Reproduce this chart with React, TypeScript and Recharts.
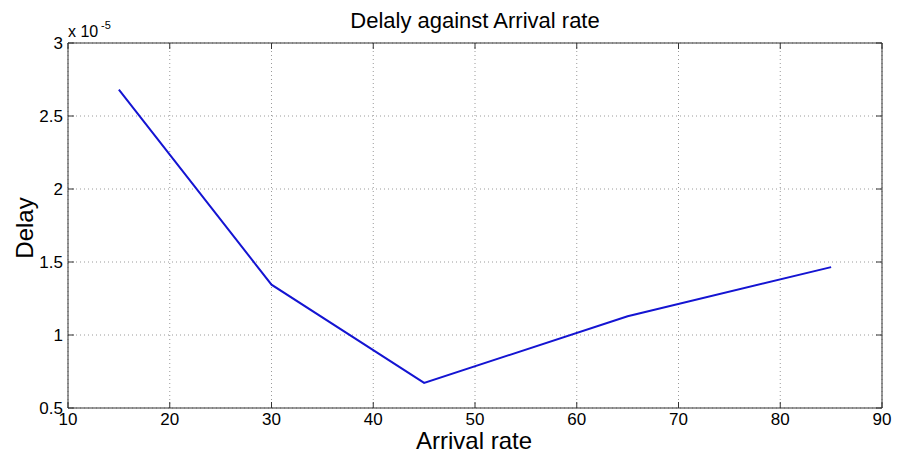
import { LineChart, Line, XAxis, YAxis, CartesianGrid } from 'recharts';

// Arrival rate (x) and delay (in units of 1e-5)
const arrivalRate = [15, 30, 45, 65, 85];
const delay = [2.68, 1.345, 0.672, 1.128, 1.465];

const xTicks = [10, 20, 30, 40, 50, 60, 70, 80, 90];
const yTicks = [0.5, 1, 1.5, 2, 2.5, 3];

const data = arrivalRate.map((x, i) => ({ x, delay: delay[i] }));

const FONT = 'Liberation Sans, Arial, sans-serif';
const AXIS = '#333';
const GAP = 5; // tick label distance from the axis line
const TICK = 6; // inward tick length

// MATLAB-style ticks: short marks pointing into the plot, labels outside
function BottomTick({ x, y, payload }: any) {
  const axisY = y - GAP;
  return (
    <g>
      <line x1={x} y1={axisY} x2={x} y2={axisY - TICK} stroke={AXIS} />
      <text x={x} y={y} dy="0.72em" textAnchor="middle" fontSize={17} fontFamily={FONT} fill="#000">
        {payload.value}
      </text>
    </g>
  );
}

function TopTick({ x, y }: any) {
  return <line x1={x} y1={y} x2={x} y2={y + TICK} stroke={AXIS} />;
}

function LeftTick({ x, y, payload }: any) {
  const axisX = x + GAP;
  return (
    <g>
      <line x1={axisX} y1={y} x2={axisX + TICK} y2={y} stroke={AXIS} />
      <text x={x} y={y} dy="0.36em" textAnchor="end" fontSize={17} fontFamily={FONT} fill="#000">
        {payload.value}
      </text>
    </g>
  );
}

function RightTick({ x, y }: any) {
  return <line x1={x} y1={y} x2={x - TICK} y2={y} stroke={AXIS} />;
}

export default function App() {
  return (
    <div style={{ position: 'absolute', left: 0, top: 0, width: 898, height: 455, background: '#fff' }}>
      <LineChart
        width={898}
        height={455}
        data={data}
        margin={{ top: 42, right: 15, bottom: 0, left: 0 }}
      >
        <CartesianGrid stroke="#9a9a9a" strokeDasharray="1 3" />
        <XAxis
          dataKey="x"
          type="number"
          domain={[10, 90]}
          ticks={xTicks}
          height={47}
          stroke={AXIS}
          tickLine={false}
          tickSize={0}
          tickMargin={GAP}
          tick={BottomTick}
        />
        <XAxis
          xAxisId="top"
          orientation="top"
          dataKey="x"
          type="number"
          domain={[10, 90]}
          ticks={xTicks}
          height={1}
          stroke={AXIS}
          tickLine={false}
          tickSize={0}
          tickMargin={0}
          tick={TopTick}
        />
        <YAxis
          type="number"
          domain={[0.5, 3]}
          ticks={yTicks}
          width={68}
          stroke={AXIS}
          tickLine={false}
          tickSize={0}
          tickMargin={GAP}
          tick={LeftTick}
        />
        <YAxis
          yAxisId="right"
          orientation="right"
          type="number"
          domain={[0.5, 3]}
          ticks={yTicks}
          width={1}
          stroke={AXIS}
          tickLine={false}
          tickSize={0}
          tickMargin={0}
          tick={RightTick}
        />
        {/* invisible copy so the mirrored top/right axes get drawn */}
        <Line
          xAxisId="top"
          yAxisId="right"
          dataKey="delay"
          stroke="none"
          dot={false}
          legendType="none"
          isAnimationActive={false}
        />
        <Line
          type="linear"
          dataKey="delay"
          stroke="#1414d2"
          strokeWidth={2}
          dot={false}
          isAnimationActive={false}
        />
      </LineChart>
      <svg
        width={898}
        height={455}
        style={{ position: 'absolute', left: 0, top: 0, pointerEvents: 'none' }}
        fontFamily={FONT}
      >
        <text x={475} y={28} textAnchor="middle" fontSize={22} fill="#000">
          Delaly against Arrival rate
        </text>
        <text x={68} y={37} fontSize={16} fill="#000">
          x 10
        </text>
        <text x={101} y={29} fontSize={11} fill="#000">
          -5
        </text>
        <text x={474} y={449} textAnchor="middle" fontSize={24} fill="#000">
          Arrival rate
        </text>
        <text
          x={33}
          y={228}
          textAnchor="middle"
          fontSize={24}
          fill="#000"
          transform="rotate(-90 33 228)"
        >
          Delay
        </text>
      </svg>
    </div>
  );
}
